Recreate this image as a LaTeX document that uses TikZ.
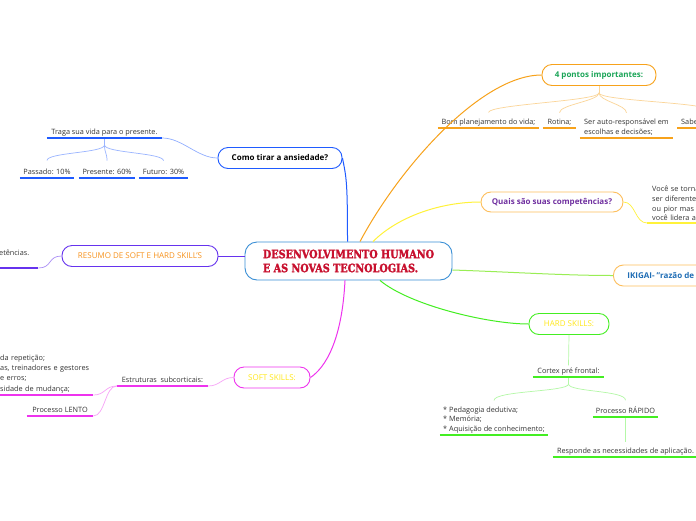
\documentclass[tikz,border=0pt]{standalone}
\usepackage{fontspec}
\setmainfont{Open Sans}
\newfontfamily\titlefont[FakeStretch=0.84,FakeBold=2]{DejaVu Serif Bold}
\usetikzlibrary{positioning,calc}
\definecolor{cblue}{HTML}{3A8FD6}
\definecolor{cred}{HTML}{C8102E}
\definecolor{bl}{HTML}{1F5BFF}
\definecolor{pu}{HTML}{6633EE}
\definecolor{mg}{HTML}{EE33EE}
\definecolor{or}{HTML}{F7A21B}
\definecolor{orl}{HTML}{FDBE5B}
\definecolor{orT}{HTML}{F7931E}
\definecolor{gr}{HTML}{1BA558}
\definecolor{yl}{HTML}{FFF23A}
\definecolor{gn}{HTML}{44EE22}
\definecolor{gnl}{HTML}{99EE55}
\definecolor{pur}{HTML}{7030A0}
\definecolor{ikb}{HTML}{1F6DB5}
\definecolor{yel}{HTML}{FFE81A}
\definecolor{ink}{HTML}{333333}
\tikzset{
  root/.style={draw=cblue, line width=0.9pt, rounded corners=12pt, fill=white, minimum width=207pt, minimum height=38pt, align=left, text=cred, font={\titlefont\fontsize{11.5}{14}\selectfont}},
  topic/.style={draw, line width=0.9pt, rounded corners=10pt, fill=white, minimum height=21pt, inner sep=2pt, font=\fontsize{8}{9}\selectfont},
  tb/.style={font=\fontsize{8}{9}\selectfont\bfseries},
  leaf/.style={anchor=south, inner xsep=0pt, inner ysep=2pt, text depth=1.6pt, text=ink, font=\fontsize{7.3}{9.6}\selectfont},
  ul/.style={line width=1.4pt},
  br/.style={line width=0.7pt},
  ml/.style={line width=1pt},
}
\begin{document}
\begin{tikzpicture}[x=1pt,y=-1pt]
\fill[white] (0,0) rectangle (696,520);
\useasboundingbox (0,0) rectangle (696,520);
\clip (0,0) rectangle (696,520);

%% ---- o tema central
\node[root] (root) at (348.5,261) {DESENVOLVIMENTO HUMANO\\E AS NOVAS TECNOLOGIAS.};

%% ---- ramo azul: ansiedade
\node[topic, tb, draw=bl, minimum width=124pt] (como) at (280,158) {Como tirar a ansiedade?};
\node[leaf, minimum width=115pt] (traga) at (104.5,138) {Traga sua vida para o presente.};
\node[leaf, minimum width=54pt] (pas) at (47,178) {Passado: 10\%};
\node[leaf, minimum width=56pt] (pre) at (107,178) {Presente: 60\%};
\node[leaf, minimum width=49pt] (fut) at (163.5,178) {Futuro: 30\%};
\coordinate (tragaF) at ($(traga.south)+(0,7)$);

\draw[ml, bl] ([xshift=-1pt]root.north) .. controls +(0,-60) and +(4,20) .. (como.east);
\draw[br, bl!50] (como.west) .. controls +(-20,0) and +(20,0) .. (traga.south east);
\draw[br, bl!45] (traga.south) -- (tragaF);
\foreach \n in {pas,pre,fut} \draw[br, bl!45] (tragaF) .. controls +(0,8) and +(0,-8) .. ([yshift=6pt]\n.north);
\foreach \n in {traga,pas,pre,fut} \draw[ul, bl] (\n.south west) -- (\n.south east);

%% ---- ramo roxo: resumo
\node[topic, draw=pu, minimum width=156pt, text=orT] (res) at (140,256) {RESUMO DE SOFT E HARD SKILL'S};
\node[leaf, anchor=south west, text width=39pt, align=left, text depth=10.5pt] (comp) at (-1,268) {etências.};

\draw[ml, pu] ([yshift=5pt]root.west) -- (res.east);
\draw[br, pu!55] (res.west) .. controls +(-14,0) and +(14,0) .. (comp.south east);
\draw[ul, pu] (comp.south west) -- (comp.south east);

%% ---- ramo magenta: soft skills
\node[topic, draw=mg, minimum width=76pt, text=yel] (soft) at (272,377.5) {SOFT SKILLS:};
\node[leaf, minimum width=91pt] (estr) at (162.5,386) {Estruturas\enspace subcorticais:};
\node[leaf, anchor=south west, text width=93pt, align=left, text depth=, font=\fontsize{7.3}{10.3}\selectfont] (lista) at (0,395)
  {da repetição;\\as, treinadores e gestores\\e erros;\\sidade de mudança;};
\node[leaf, minimum width=66pt] (lento) at (60,416) {Processo LENTO};

\draw[ml, mg] ([xshift=-3.5pt]root.south) .. controls +(-3,60) and +(15,-10) .. (soft.east);
\draw[br, mg!45] (soft.west) .. controls +(-12,0) and +(12,0) .. (estr.south east);
\foreach \n in {lista,lento} \draw[br, mg!45] (estr.south west) .. controls +(-12,0) and +(12,0) .. (\n.south east);
\foreach \n in {estr,lista,lento} \draw[ul, mg] (\n.south west) -- (\n.south east);

%% ---- ramo laranja: 4 pontos
\node[topic, tb, draw=or, minimum width=114pt, text=gr] (pts) at (599,75) {4 pontos importantes:};
\node[leaf, minimum width=101pt] (bom) at (488.5,128) {Bom planejamento do vida;};
\node[leaf, minimum width=33pt] (rot) at (559.5,128) {Rotina;};
\node[leaf, minimum width=93pt, align=left] (ser) at (626.5,138) {Ser auto-responsável em\\escolhas e decisões;};
\node[leaf, anchor=south west, inner xsep=4pt] (sabe) at (677,128) {Sabe};
\coordinate (ptsF) at ($(pts.south)+(0,7)$);

\draw[ml, or] ([xshift=11.5pt]root.north) .. controls +(40,-75) and +(-60,0) .. (pts.west);
\draw[br, or!45] (pts.south) -- (ptsF);
\foreach \n in {bom,rot,ser} \draw[br, or!45] (ptsF) .. controls +(0,8) and +(0,-8) .. ([yshift=4pt]\n.north);
\draw[br, or!45] (ptsF) .. controls +(0,8) and +(0,-8) .. ([xshift=20pt,yshift=6pt]sabe.north);
\foreach \n in {bom,rot,ser,sabe} \draw[ul, or] (\n.south west) -- (\n.south east);

%% ---- ramo amarelo: competencias
\node[topic, tb, draw=orl, minimum width=142pt, minimum height=20pt, text=pur] (quais) at (552,202) {Quais são suas competências?};
\node[leaf, anchor=south west, inner xsep=5pt, text width=60pt, align=left, text depth=, font=\fontsize{7.3}{9.7}\selectfont] (voce) at (647,223)
  {Você se torna\\ser diferente\\ou pior mas\\você lidera a};

\draw[ml, yl] ([xshift=24.5pt]root.north) .. controls +(25,-25) and +(-40,0) .. (quais.west);
\draw[br, yl] (quais.east) .. controls +(12,0) and +(-12,0) .. (voce.south west);
\draw[ul, yl] (voce.south west) -- (voce.south east);

%% ---- ramos verdes: ikigai e hard skills
\node[topic, tb, draw=orl, anchor=west, inner xsep=14pt, text=ikb] (iki) at (613,275.5) {IKIGAI- \symbol{34}razão de s};
\node[topic, draw=gn, minimum width=80pt, text=yel] (hard) at (569,324) {HARD SKILLS:};
\node[leaf, minimum width=71pt] (ctx) at (568.5,377) {Cortex pré frontal:};
\node[leaf, minimum width=108pt, align=left, font=\fontsize{7.3}{9.5}\selectfont] (ped) at (494,435)
  {* Pedagogia dedutiva;\\* Memória;\\* Aquisição de conhecimento;};
\node[leaf, minimum width=65pt] (rap) at (625.5,417) {Processo RÁPIDO};
\node[leaf, minimum width=145pt] (resp) at (625.5,457) {Responde as necessidades de aplicação.};
\coordinate (ctxF) at ($(ctx.south)+(0,7)$);

\draw[ml, gnl] ([yshift=-9pt]root.east) .. controls +(60,2) and +(-50,0) .. (iki.west);
\draw[ml, gn] ([xshift=31.5pt]root.south) .. controls +(30,25) and +(-40,0) .. (hard.west);
\draw[br, gn!40] (hard.south) -- (ctx.north);
\draw[br, gn!40] (ctx.south) -- (ctxF);
\foreach \n in {ped,rap} \draw[br, gn!40] (ctxF) .. controls +(0,8) and +(0,-10) .. ([yshift=4pt]\n.north);
\draw[br, gn!40] (rap.south) -- ([yshift=3pt]resp.north);
\foreach \n in {ctx,ped,rap,resp} \draw[ul, gn] (\n.south west) -- (\n.south east);
\end{tikzpicture}
\end{document}
